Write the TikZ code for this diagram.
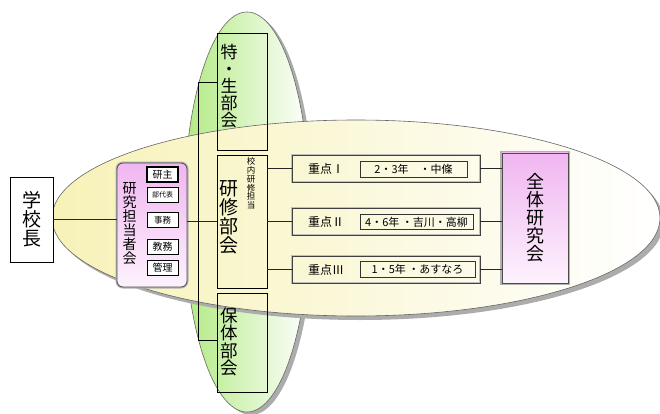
\documentclass[tikz,border=0pt]{standalone}
\usepackage{fontspec}
\newfontfamily\jp{Noto Sans CJK JP}
\definecolor{vgreen}{RGB}{178,234,130}
\definecolor{hyellow}{RGB}{247,242,184}
\definecolor{pinkA}{RGB}{240,182,240}
\definecolor{pinkB}{RGB}{253,242,253}
\begin{document}
\begin{tikzpicture}[x=1pt,y=-1pt,
  box/.style={draw=black, line width=0.7pt, inner sep=0pt},
  sbox/.style={draw=black, line width=0.6pt, fill=white, inner sep=0pt, minimum width=31pt, minimum height=15pt},
  jbox/.style={draw=black!75, line width=0.8pt, preaction={draw=gray!50, line width=2.4pt}, inner sep=0pt, minimum width=188pt, minimum height=27pt},
  ibox/.style={draw=black!80, line width=0.6pt, inner sep=0pt, minimum height=15.5pt, font=\jp\fontsize{11}{11}\selectfont},
  jlabel/.style={inner sep=0pt, font=\jp\fontsize{12}{12}\selectfont},
  vtext/.style={align=center, inner sep=0pt},
  conn/.style={line width=1.5pt, black!85},
  thinconn/.style={line width=0.7pt, black}]
\fill[white] (0,0) rectangle (660,414);
\path[use as bounding box] (0,0) rectangle (660,414);

% vertical (green) ellipse with shadow
\fill[gray!65] (251,215) ellipse [x radius=63pt, y radius=200pt];
\draw[black!60, line width=0.6pt, left color=vgreen, right color=white] (247,212) ellipse [x radius=63pt, y radius=200pt];

% horizontal (yellow) ellipse with shadow
\fill[gray!65] (360,222) ellipse [x radius=304pt, y radius=98pt];
\draw[black!60, line width=0.6pt, left color=hyellow, right color=white] (356,218) ellipse [x radius=304pt, y radius=98pt];

% boxes
\node[box, fill=white, minimum width=43pt, minimum height=85pt, align=center, font=\jp\fontsize{19}{19}\selectfont] (school) at (31.5,219.5) {学\\校\\長};

\node[draw=black!70, line width=0.8pt, rounded corners=6pt, preaction={draw=gray!60, line width=3pt}, top color=pinkA, bottom color=pinkB, minimum width=70pt, minimum height=124pt, inner sep=0pt] (tanto) at (152,225) {};
\node[vtext, font=\jp\fontsize{14}{14}\selectfont] (tantoT) at (129.5,223.5) {研\\究\\担\\当\\者\\会};

\node[sbox, line width=1.3pt, font=\jp\fontsize{10}{10}\selectfont] (kenshuA) at (162.5,174.5) {研主};
\node[sbox, font=\jp\fontsize{7}{7}\selectfont] (budai) at (162.5,194.5) {部代表};
\node[sbox, font=\jp\fontsize{8.5}{8.5}\selectfont] (jimu) at (162.5,220) {事務};
\node[sbox, font=\jp\fontsize{10}{10}\selectfont] (kyomu) at (162.5,247) {教務};
\node[sbox, font=\jp\fontsize{10}{10}\selectfont] (kanri) at (162.5,268) {管理};

\node[box, minimum width=50pt, minimum height=117pt] (toku) at (242,91.5) {};
\node[vtext, font=\jp\fontsize{17}{17}\selectfont] (tokuT) at (229,86) {特\\・\\生\\部\\会};

\node[box, minimum width=50pt, minimum height=133pt] (kenshu) at (242,221.5) {};
\node[vtext, font=\jp\fontsize{19}{19}\selectfont] (kenshuT) at (229,217) {研\\修\\部\\会};
\node[vtext, font=\jp\fontsize{8.5}{8.8}\selectfont] (kounai) at (251,183.5) {校\\内\\研\\修\\担\\当};

\node[box, minimum width=50pt, minimum height=99pt] (hotai) at (242,342.5) {};
\node[vtext, font=\jp\fontsize{17.5}{17.5}\selectfont] (hotaiT) at (229,342) {保\\体\\部\\会};

\node[draw=black!70, line width=0.8pt, preaction={draw=gray!60, line width=3.5pt}, top color=pinkA, bottom color=pinkB, minimum width=66pt, minimum height=130pt, inner sep=0pt, align=center, font=\jp\fontsize{18}{18}\selectfont] (zentai) at (535,218) {全\\体\\研\\究\\会};

\node[jbox] (j1) at (386,168.5) {};
\node[jbox] (j2) at (386,221.5) {};
\node[jbox] (j3) at (386,269.5) {};
\node[jlabel] (j1l) at (326,168.5) {重点Ⅰ};
\node[jlabel] (j2l) at (326,221.5) {重点Ⅱ};
\node[jlabel] (j3l) at (326,269.5) {重点Ⅲ};
\node[ibox, minimum width=107pt] (j1i) at (413.5,169.5) {2・3年　・中條};
\node[ibox, minimum width=113pt] (j2i) at (416.5,222) {4・6年 ・吉川・高柳};
\node[ibox, minimum width=115pt] (j3i) at (417.5,269.5) {1・5年 ・あすなろ};

% connectors
\draw[conn] (school.east) -- (school.east -| tanto.west);
\draw[conn] (kenshu.west -| tanto.east) -- (kenshu.west);
\draw[thinconn] (toku.west |- 0,82) -- (198,82) -- (198,340) -- (hotai.west |- 0,340);
\draw[conn] (kenshu.east |- j1.west) -- (j1.west);
\draw[conn] (kenshu.east |- j2.west) -- (j2.west);
\draw[conn] (kenshu.east |- j3.west) -- (j3.west);
\draw[conn] (j1.east) -- (j1.east -| zentai.west);
\draw[conn] (j2.east) -- (j2.east -| zentai.west);
\draw[conn] (j3.east) -- (j3.east -| zentai.west);
\end{tikzpicture}
\end{document}
